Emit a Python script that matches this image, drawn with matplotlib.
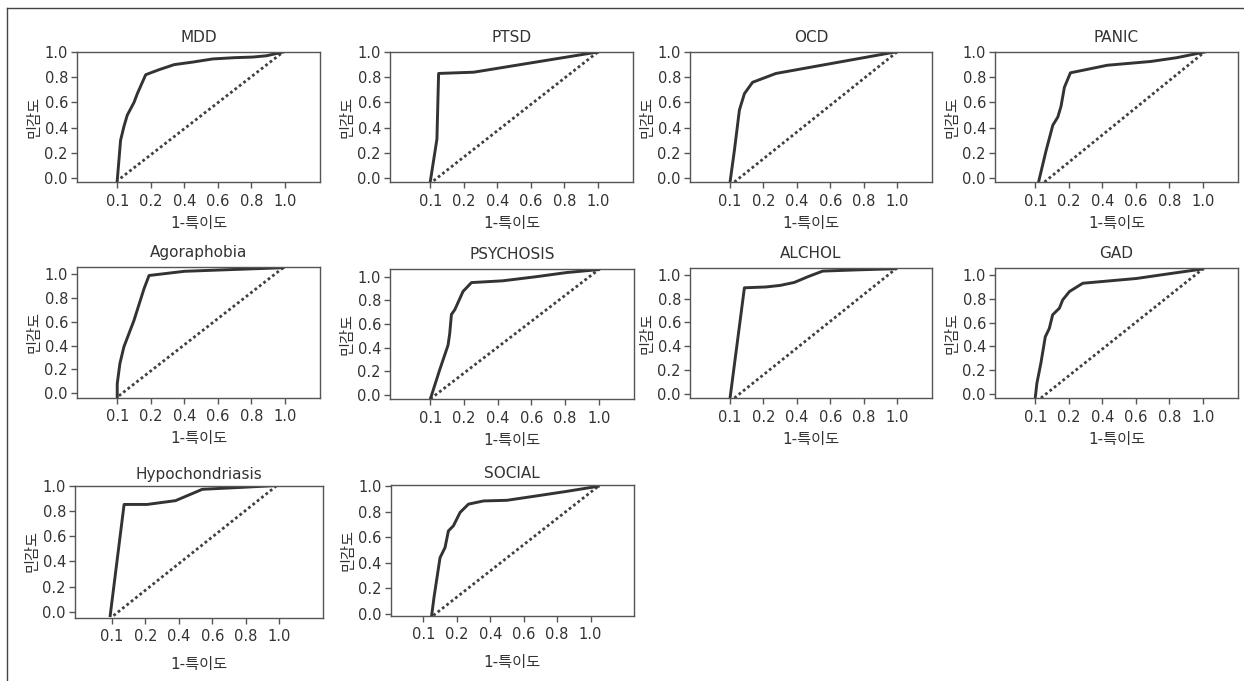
import matplotlib
matplotlib.use("Agg")
import matplotlib.pyplot as plt
from matplotlib.lines import Line2D

plt.rcParams['font.family'] = ['DejaVu Sans', 'Noto Sans CJK KR']

# values (x = 1-특이도 axis position, y = 민감도)
titles = ["MDD", "PTSD", "OCD", "PANIC",
          "Agoraphobia", "PSYCHOSIS", "ALCHOL", "GAD",
          "Hypochondriasis", "SOCIAL"]

mdd_x = [0.0, 0.02, 0.04, 0.06, 0.08, 0.10, 0.12, 0.17, 0.25, 0.34, 0.45, 0.57, 0.70, 0.81, 0.89, 0.99]
mdd_y = [-0.02, 0.30, 0.41, 0.50, 0.55, 0.60, 0.67, 0.82, 0.86, 0.90, 0.92, 0.945, 0.955, 0.96, 0.97, 1.0]
ptsd_x = [0.0, 0.04, 0.05, 0.26, 1.0]
ptsd_y = [-0.03, 0.31, 0.83, 0.84, 1.0]
ocd_x = [0.0, 0.026, 0.056, 0.086, 0.135, 0.275, 0.99]
ocd_y = [-0.03, 0.22, 0.54, 0.67, 0.76, 0.83, 1.0]
panic_x = [0.02, 0.065, 0.105, 0.135, 0.154, 0.174, 0.21, 0.43, 0.69, 0.845, 1.01]
panic_y = [-0.03, 0.22, 0.42, 0.485, 0.57, 0.72, 0.835, 0.895, 0.925, 0.955, 1.0]
agora_x = [0.0, 0.0, 0.016, 0.04, 0.10, 0.16, 0.19, 0.40, 0.69, 0.99]
agora_y = [-0.03, 0.08, 0.25, 0.39, 0.61, 0.875, 0.985, 1.02, 1.035, 1.05]
psych_x = [0.0, 0.055, 0.105, 0.115, 0.125, 0.145, 0.194, 0.244, 0.43, 0.63, 0.81, 1.0]
psych_y = [-0.035, 0.21, 0.42, 0.52, 0.68, 0.72, 0.875, 0.95, 0.965, 1.0, 1.035, 1.06]
alchol_x = [0.0, 0.086, 0.215, 0.30, 0.385, 0.47, 0.555, 0.755, 0.994]
alchol_y = [-0.034, 0.89, 0.897, 0.91, 0.935, 0.985, 1.03, 1.04, 1.05]
gad_x = [0.0, 0.01, 0.034, 0.06, 0.084, 0.104, 0.144, 0.164, 0.204, 0.284, 0.404, 0.604, 0.80, 1.0]
gad_y = [-0.034, 0.09, 0.26, 0.48, 0.55, 0.665, 0.72, 0.79, 0.86, 0.93, 0.945, 0.97, 1.01, 1.05]
hypo_x = [-0.01, 0.073, 0.21, 0.38, 0.54, 0.77, 0.985]
hypo_y = [-0.03, 0.85, 0.85, 0.88, 0.97, 0.985, 1.0]
social_x = [0.05, 0.064, 0.10, 0.13, 0.15, 0.18, 0.22, 0.27, 0.36, 0.50, 0.68, 0.857, 1.046]
social_y = [-0.013, 0.13, 0.44, 0.52, 0.65, 0.69, 0.795, 0.86, 0.885, 0.89, 0.925, 0.96, 1.0]

curves_x = [mdd_x, ptsd_x, ocd_x, panic_x, agora_x, psych_x, alchol_x, gad_x, hypo_x, social_x]
curves_y = [mdd_y, ptsd_y, ocd_y, panic_y, agora_y, psych_y, alchol_y, gad_y, hypo_y, social_y]

# reference (chance) lines
ref_x = [[0.02, 0.99], [0.02, 1.0], [0.026, 1.0], [0.055, 1.01],
         [0.01, 0.99], [0.0, 1.0], [0.026, 0.994], [0.034, 1.0],
         [0.01, 0.985], [0.06, 1.046]]
ref_y = [[0.0, 1.0], [-0.02, 1.0], [-0.03, 1.0], [-0.03, 1.0],
         [-0.02, 1.05], [-0.035, 1.06], [-0.034, 1.05], [-0.034, 1.05],
         [-0.03, 1.0], [-0.013, 1.0]]

x_ticks = [0.0, 0.2, 0.4, 0.6, 0.8, 1.0]
x_tick_labels = ["0.1", "0.2", "0.4", "0.6", "0.8", "1.0"]
y_ticks = [0.0, 0.2, 0.4, 0.6, 0.8, 1.0]
y_tick_labels = ["0.0", "0.2", "0.4", "0.6", "0.8", "1.0"]

W, H = 1244, 681
# axes boxes in pixels: (left, right, top, bottom)
boxes = [(77, 320, 52, 182), (390, 633, 52, 182), (690, 932, 52, 182), (995, 1238, 52, 182),
         (77, 320, 267, 397.5), (390, 634, 269, 399), (690, 932, 268, 398), (995, 1238, 268, 398),
         (75, 323, 485.5, 617.5), (390.7, 634, 485, 615.5)]
xlims = [(-0.24, 1.21)] * 8 + [(-0.22, 1.26), (-0.195, 1.26)]
ylims = [(-0.03, 1.0)] * 4 + [(-0.034, 1.056), (-0.036, 1.065), (-0.034, 1.056), (-0.034, 1.058)] \
        + [(-0.045, 1.0), (-0.013, 1.01)]

fig = plt.figure(figsize=(W / 100, H / 100), dpi=100)

for i, title in enumerate(titles):
    l, r, t, b = boxes[i]
    ax = fig.add_axes([l / W, 1 - b / H, (r - l) / W, (b - t) / H])
    ax.plot(ref_x[i], ref_y[i], color='#404040', lw=2.0, linestyle=(0, (1, 1.0)))
    ax.plot(curves_x[i], curves_y[i], color='#333333', lw=2.1, solid_joinstyle='round')
    ax.set_xlim(*xlims[i])
    ax.set_ylim(*ylims[i])
    ax.set_xticks(x_ticks)
    ax.set_xticklabels(x_tick_labels)
    ax.set_yticks(y_ticks)
    ax.set_yticklabels(y_tick_labels)
    ax.tick_params(labelsize=10.5, length=4, width=1, color='#555555',
                   labelcolor='#333333')
    ax.tick_params(axis='x', pad=4.5)
    ax.tick_params(axis='y', pad=2.5)
    for sp in ax.spines.values():
        sp.set_color('#555555')
        sp.set_linewidth(1.0)
    ax.set_title(title, fontsize=11, color='#333333', pad=5 if i >= 8 else 7)
    ax.set_ylabel("민감도", fontsize=11, color='#333333', labelpad=2)
    ax.set_xlabel("1-특이도", fontsize=11, color='#333333',
                  labelpad=9 if i >= 8 else 5)

# outer frame (top and left only)
fig.add_artist(Line2D([7 / W, 1.0], [1 - 8 / H, 1 - 8 / H], color='#444444', lw=1.0))
fig.add_artist(Line2D([7 / W, 7 / W], [0.0, 1 - 8 / H], color='#444444', lw=1.0))

fig.savefig("out.png", dpi=100)
